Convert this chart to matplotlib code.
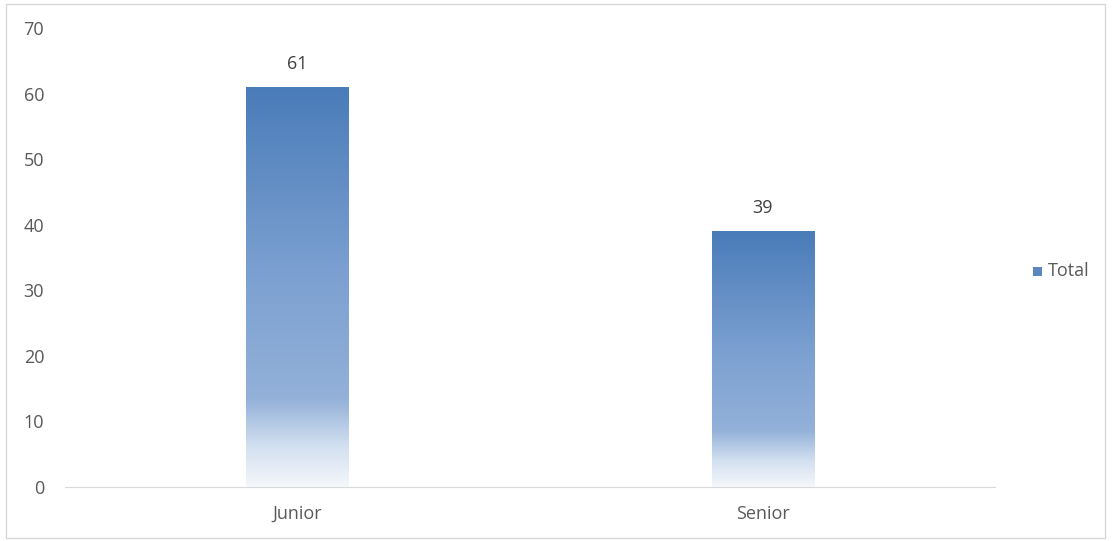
"""
Bar chart of Junior vs Senior totals with Excel-style gradient bars.
"""

import matplotlib.pyplot as plt
import numpy as np
from matplotlib.colors import LinearSegmentedColormap
from matplotlib.patches import Rectangle

categories = ["Junior", "Senior"]
totals = [61, 39]
series_name = "Total"

plt.rcParams['font.family'] = ['Open Sans', 'DejaVu Sans']
grey = "#595959"
fs = 13

# dark blue at the top, fading to near white over the lowest fifth
grad = LinearSegmentedColormap.from_list(
    "fade",
    [(0.0, "#f4f7fb"), (0.10, "#d3e0f0"), (0.22, "#93b1d9"),
     (0.55, "#7a9fd0"), (1.0, "#4a7cb9")])

fig = plt.figure(figsize=(11.12, 5.41), dpi=100)
ax = fig.add_axes([0.0585, 0.0998, 0.8365, 0.8484])

x = np.arange(len(categories))
bars = ax.bar(x, totals, width=0.22, color="none", edgecolor="none")

ramp = np.linspace(0, 1, 256).reshape(-1, 1)
for b, v in zip(bars, totals):
    x0, w = b.get_x(), b.get_width()
    ax.imshow(ramp, cmap=grad, origin="lower", aspect="auto",
              extent=(x0, x0 + w, 0, v), zorder=2)
    ax.text(b.get_x() + w / 2, v + 2.2, str(v), ha="center", va="bottom",
            fontsize=fs, color="#404040")

ax.set_xlim(-0.5, len(categories) - 0.5)
ax.set_ylim(0, 70)
ax.set_yticks(range(0, 71, 10))
ax.set_xticks(x)
ax.set_xticklabels(categories)

for s in ["top", "right", "left"]:
    ax.spines[s].set_visible(False)
ax.spines["bottom"].set_color("#d9d9d9")
ax.tick_params(axis="both", length=0, labelsize=fs, colors=grey)
ax.tick_params(axis="x", pad=13)
ax.tick_params(axis="y", pad=15)

# legend entry on the right
fig.patches.append(Rectangle((1033 / 1112, 1 - 276 / 541), 9 / 1112, 9 / 541,
                             transform=fig.transFigure, facecolor="#5b87bf",
                             edgecolor="none"))
fig.text(1048 / 1112, 1 - 271 / 541, series_name, ha="left", va="center",
         fontsize=fs, color=grey)

# chart border
fig.patches.append(Rectangle((6 / 1112, 3 / 541), 1099 / 1112, 534 / 541,
                             transform=fig.transFigure, facecolor="none",
                             edgecolor="#d9d9d9", lw=1))

fig.savefig("out.png", dpi=100)
